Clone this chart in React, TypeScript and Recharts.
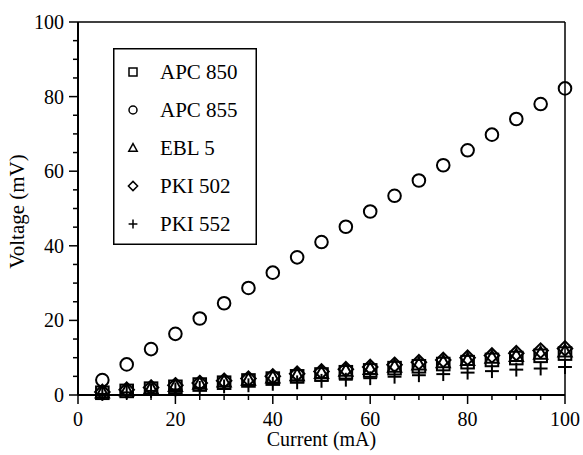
import React from "react"
import { ScatterChart, Scatter, XAxis, YAxis, Legend, ReferenceLine, Label } from "recharts"

const FONT = '"Liberation Serif", "Times New Roman", serif'

// current (mA) on the x axis, shared by every series
const current = [5, 10, 15, 20, 25, 30, 35, 40, 45, 50, 55, 60, 65, 70, 75, 80, 85, 90, 95, 100]

// voltage (mV)
const apc850 = [0.6, 1.1, 1.7, 2.2, 2.8, 3.3, 3.9, 4.4, 5.0, 5.5, 6.1, 6.6, 7.2, 7.7, 8.3, 8.8, 9.4, 9.9, 10.5, 11.1]
const apc855 = [4.0, 8.2, 12.3, 16.4, 20.5, 24.6, 28.7, 32.8, 36.9, 41.0, 45.1, 49.2, 53.4, 57.5, 61.6, 65.6, 69.8, 74.0, 78.0, 82.2]
const ebl5 = [0.7, 1.2, 1.8, 2.4, 3.0, 3.6, 4.1, 4.7, 5.3, 5.9, 6.5, 7.0, 7.6, 8.2, 8.8, 9.4, 10.0, 10.5, 11.1, 11.7]
const pki502 = [0.8, 1.4, 2.0, 2.6, 3.2, 3.8, 4.4, 5.0, 5.7, 6.3, 6.9, 7.5, 8.1, 8.8, 9.4, 10.0, 10.6, 11.2, 11.9, 12.5]
const pki552 = [0.3, 0.7, 1.1, 1.5, 1.9, 2.3, 2.6, 3.0, 3.4, 3.8, 4.1, 4.5, 4.9, 5.3, 5.6, 6.0, 6.4, 6.8, 7.1, 7.5]

// ticks every 5, labels on every 20
const ticks = [0, 5, 10, 15, 20, 25, 30, 35, 40, 45, 50, 55, 60, 65, 70, 75, 80, 85, 90, 95, 100]
const labelStep = 20

type Kind = "square" | "circle" | "triangle" | "diamond" | "plus"

function marker(kind: Kind, cx: number, cy: number, s: number, sw: number) {
  const p = { fill: "none", stroke: "#000", strokeWidth: sw }
  switch (kind) {
    case "square":
      return <rect x={cx - s} y={cy - s} width={2 * s} height={2 * s} {...p} />
    case "circle":
      return <circle cx={cx} cy={cy} r={s} {...p} />
    case "triangle":
      return <polygon points={`${cx},${cy - s * 1.1} ${cx + s * 1.05},${cy + s * 0.8} ${cx - s * 1.05},${cy + s * 0.8}`} {...p} />
    case "diamond":
      return <polygon points={`${cx},${cy - s * 1.15} ${cx + s * 1.15},${cy} ${cx},${cy + s * 1.15} ${cx - s * 1.15},${cy}`} {...p} />
    default:
      return (
        <g {...p}>
          <line x1={cx - s * 1.1} x2={cx + s * 1.1} y1={cy} y2={cy} />
          <line x1={cx} x2={cx} y1={cy - s * 1.1} y2={cy + s * 1.1} />
        </g>
      )
  }
}

const series: { name: string; kind: Kind; values: number[] }[] = [
  { name: "APC 850", kind: "square", values: apc850 },
  { name: "APC 855", kind: "circle", values: apc855 },
  { name: "EBL 5", kind: "triangle", values: ebl5 },
  { name: "PKI 502", kind: "diamond", values: pki502 },
  { name: "PKI 552", kind: "plus", values: pki552 },
]

function XTick(props: any) {
  const { x, y, payload } = props
  const major = payload.value % labelStep === 0
  return (
    <g>
      <line x1={x} x2={x} y1={y} y2={y + (major ? 9 : 5)} stroke="#000" strokeWidth={1.5} />
      {major && (
        <text x={x} y={y + 31} textAnchor="middle" fontSize={20} fontFamily={FONT} fill="#000">
          {payload.value}
        </text>
      )}
    </g>
  )
}

function YTick(props: any) {
  const { x, y, payload } = props
  const major = payload.value % labelStep === 0
  return (
    <g>
      <line x1={x} x2={x - (major ? 9 : 5)} y1={y} y2={y} stroke="#000" strokeWidth={1.5} />
      {major && (
        <text x={x - 14} y={y + 7} textAnchor="end" fontSize={20} fontFamily={FONT} fill="#000">
          {payload.value}
        </text>
      )}
    </g>
  )
}

function LegendBox() {
  return (
    <svg width={144} height={197} style={{ display: "block" }}>
      <rect x={0.75} y={0.75} width={142.5} height={195.5} fill="#fff" stroke="#000" strokeWidth={1.5} />
      {series.map((s, i) => (
        <g key={s.name}>
          {marker(s.kind, 20, 24 + i * 38, 4, 1.5)}
          <text x={47} y={24 + i * 38 + 7} fontSize={21} fontFamily={FONT} fill="#000">
            {s.name}
          </text>
        </g>
      ))}
    </svg>
  )
}

export default function App() {
  return (
    <div style={{ position: "absolute", left: 0, top: 0, background: "#fff" }}>
      <ScatterChart width={583} height={455} margin={{ top: 22, right: 18, bottom: 0, left: 0 }}>
        <XAxis
          type="number"
          dataKey="x"
          domain={[0, 100]}
          ticks={ticks}
          interval={0}
          height={60}
          tickSize={0}
          tickMargin={0}
          tickLine={false}
          tick={<XTick />}
          axisLine={{ stroke: "#000", strokeWidth: 2 }}
        >
          <Label
            content={({ viewBox }: any) => (
              <text
                x={viewBox.x + viewBox.width / 2}
                y={viewBox.y + 51}
                textAnchor="middle"
                fontSize={20}
                fontFamily={FONT}
                fill="#000"
              >
                Current (mA)
              </text>
            )}
          />
        </XAxis>
        <YAxis
          type="number"
          dataKey="y"
          domain={[0, 100]}
          ticks={ticks}
          interval={0}
          width={78}
          tickSize={0}
          tickMargin={0}
          tickLine={false}
          tick={<YTick />}
          axisLine={{ stroke: "#000", strokeWidth: 2 }}
        >
          <Label
            content={({ viewBox }: any) => {
              const cx = viewBox.x + 17
              const cy = viewBox.y + viewBox.height / 2 + 3
              return (
                <text
                  x={cx}
                  y={cy}
                  transform={`rotate(-90 ${cx} ${cy})`}
                  textAnchor="middle"
                  dominantBaseline="central"
                  fontSize={21}
                  fontFamily={FONT}
                  fill="#000"
                >
                  Voltage (mV)
                </text>
              )
            }}
          />
        </YAxis>
        <ReferenceLine y={100} stroke="#000" strokeWidth={1.5} />
        <ReferenceLine x={100} stroke="#000" strokeWidth={1.5} />
        {series.map((s) => (
          <Scatter
            key={s.name}
            name={s.name}
            data={current.map((x, i) => ({ x, y: s.values[i] }))}
            isAnimationActive={false}
            shape={(p: any) => marker(s.kind, p.cx, p.cy, 6.3, 2)}
          />
        ))}
        <Legend
          layout="vertical"
          align="center"
          verticalAlign="middle"
          wrapperStyle={{ left: 113, top: 48, width: 144, height: 197 }}
          content={() => <LegendBox />}
        />
      </ScatterChart>
    </div>
  )
}
